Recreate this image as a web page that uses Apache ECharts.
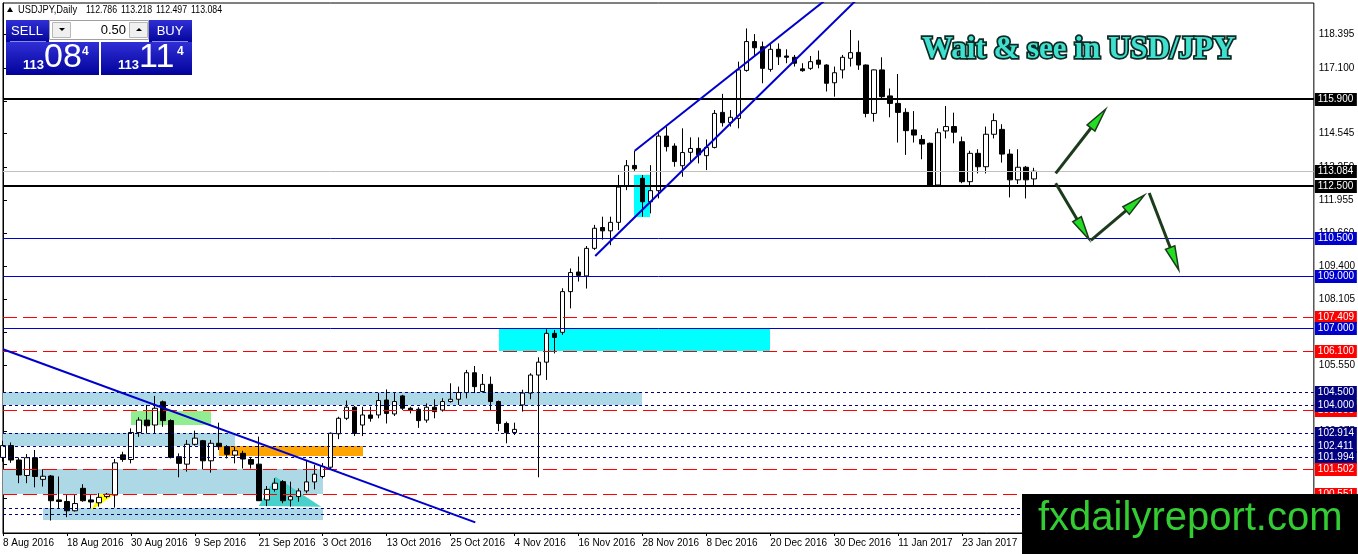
<!DOCTYPE html>
<html><head><meta charset="utf-8">
<script src="https://cdn.jsdelivr.net/npm/echarts@6/dist/echarts.min.js"></script>
<style>html,body{margin:0;padding:0;background:#fff}#c{width:1358px;height:554px}</style>
</head><body><div id="c"></div>
<script>
// ---------- data ----------
const tickIdx = [0,8,16,24,32,40,48,56,64,72,80,88,96,104,112,120];
const tickLabels = ['8 Aug 2016','18 Aug 2016','30 Aug 2016','9 Sep 2016','21 Sep 2016','3 Oct 2016','13 Oct 2016','25 Oct 2016','4 Nov 2016','16 Nov 2016','28 Nov 2016','8 Dec 2016','20 Dec 2016','30 Dec 2016','11 Jan 2017','23 Jan 2017'];
const priceTicks = [118.395,117.100,115.820,114.545,113.250,111.955,110.660,109.400,108.105,106.830,105.550,104.255,102.975,101.690,100.400];
// daily bars: [open, high, low, close]
const ohlc = [
[101.97,102.62,101.80,102.43],[102.43,102.55,101.76,101.87],[101.87,101.97,100.97,101.29],[101.27,102.10,100.97,101.96],
[101.96,102.26,100.81,101.23],[101.12,101.51,100.84,101.24],[101.25,101.29,99.52,100.29],[100.32,101.23,99.99,100.26],
[100.26,100.51,99.65,99.90],[99.90,100.51,99.87,100.18],[100.77,100.93,100.25,100.29],[100.32,100.51,99.99,100.24],
[100.21,100.58,100.06,100.42],[100.45,100.59,100.38,100.54],[100.51,101.91,100.02,101.76],[102.07,102.19,101.80,101.89],
[101.89,103.10,101.74,102.94],[102.94,103.53,102.77,103.42],[103.42,104.01,102.90,103.20],[103.23,104.36,102.88,103.88],
[104.13,104.18,103.16,103.40],[103.40,103.45,101.93,101.97],[102.00,102.13,101.20,101.74],[101.71,102.65,101.42,102.48],
[102.48,103.01,102.43,102.72],[102.62,102.65,101.51,101.84],[101.84,102.65,101.38,102.52],[102.52,103.32,102.26,102.39],
[102.39,102.45,101.93,102.09],[102.06,102.39,101.74,102.23],[102.13,102.23,101.54,101.91],[101.89,101.97,101.54,101.71],
[101.71,102.78,100.29,100.29],[100.32,100.86,100.08,100.73],[100.73,101.16,100.64,100.97],[101.03,101.09,100.19,100.29],
[100.32,101.03,100.06,100.45],[100.45,100.77,100.25,100.67],[100.67,101.84,100.58,101.02],[101.02,101.68,100.73,101.32],
[101.23,101.75,101.16,101.62],[101.59,102.94,101.49,102.91],[102.89,103.55,102.68,103.49],[103.49,104.18,103.42,103.92],
[103.92,103.97,102.80,102.90],[103.23,103.94,102.80,103.62],[103.62,103.94,103.36,103.49],[103.62,104.47,103.49,104.18],
[104.20,104.61,103.29,103.68],[103.66,104.47,103.58,104.14],[104.36,104.40,103.81,103.88],[103.88,103.94,103.68,103.81],
[103.84,103.92,103.12,103.40],[103.42,104.07,103.32,103.92],[103.92,104.23,103.49,103.75],[103.81,104.27,103.75,104.14],
[104.14,104.85,104.10,104.23],[104.23,104.72,104.01,104.49],[104.49,105.37,104.27,105.26],[105.26,105.52,104.47,104.72],
[104.53,105.21,104.49,104.81],[104.81,105.11,103.81,104.14],[104.14,104.18,102.99,103.29],[103.29,103.36,102.52,102.93],
[102.94,103.32,102.84,103.06],[104.01,104.60,103.75,104.47],[104.47,105.24,104.23,105.17],[105.17,105.86,101.20,105.67],
[105.67,106.95,104.98,106.79],[106.79,106.92,106.01,106.63],[106.83,108.54,106.73,108.41],[108.41,109.31,107.76,109.15],
[109.17,109.77,108.80,109.04],[109.02,110.18,108.53,110.09],[110.09,111.00,110.03,110.87],[110.90,111.32,110.43,110.77],
[110.77,111.32,110.21,111.10],[111.10,112.94,110.80,112.47],[112.52,113.52,112.35,113.30],[113.31,113.88,113.10,113.18],
[112.81,112.94,111.32,111.90],[111.90,113.32,111.45,112.33],[112.33,114.56,112.03,114.45],[114.45,114.82,113.85,114.04],
[114.06,114.17,113.26,113.46],[113.30,114.75,112.87,113.81],[113.82,114.40,113.42,113.97],[113.97,114.40,113.39,113.72],
[113.69,114.32,113.13,114.01],[114.01,115.46,113.97,115.33],[115.37,116.09,114.82,114.97],[114.98,115.46,114.82,115.18],
[115.14,117.34,114.75,117.02],[117.00,118.63,116.95,118.12],[118.12,118.41,117.53,117.88],[117.92,118.12,116.50,117.08],
[117.04,118.05,116.95,117.82],[117.82,118.05,117.21,117.53],[117.56,117.82,117.28,117.51],[117.51,117.60,117.15,117.28],
[117.06,117.28,116.95,116.99],[117.08,117.56,117.02,117.34],[117.40,117.77,117.08,117.24],[117.21,117.24,116.18,116.50],
[116.52,117.15,115.98,116.91],[117.02,117.60,116.69,117.51],[117.47,118.57,117.15,117.69],[117.70,118.16,117.02,117.21],
[117.21,117.23,115.18,115.33],[115.33,117.04,115.01,117.02],[117.02,117.51,115.92,115.98],[116.01,116.30,115.18,115.72],
[115.72,116.86,114.20,115.37],[115.37,115.53,113.72,114.66],[114.69,115.42,114.20,114.49],[114.32,114.49,113.55,114.14],
[114.17,114.20,112.49,112.55],[112.55,114.75,112.49,114.58],[114.65,115.62,114.36,114.82],[114.82,115.36,114.17,114.60],
[114.23,114.43,112.62,112.68],[112.68,113.88,112.55,113.78],[113.78,113.94,113.00,113.26],[113.26,114.82,113.00,114.52],
[114.52,115.33,114.36,115.05],[114.71,114.91,113.42,113.75],[113.75,113.94,112.07,112.75],[112.75,113.94,112.59,113.24],
[113.24,113.29,112.03,112.75],[112.786,113.218,112.497,113.084]
];
// horizontal levels: [price, kind]
const levels = [
[115.900,'thick'],[113.084,'bid'],[112.500,'thick'],[110.500,'blue'],[109.000,'blue'],[107.409,'red'],[107.000,'blue'],
[106.100,'red'],[104.500,'dot'],[103.800,'red'],[104.000,'dot'],[102.914,'dot'],[102.411,'dot'],[101.994,'dot'],
[101.502,'red'],[100.551,'red'],[100.000,'dot'],[99.770,'dot']
];
// zones: [fromBar, toBar, lowPrice, highPrice]
const zones = [
[-2,80,104.000,104.500],[-2,29,102.411,102.914],[-2,40,100.551,101.502],[5,40,99.540,100.000],
[16,26,103.230,103.790],[27,45,102.030,102.411],[62,96,106.100,107.000],[79,81,111.320,112.940]
];
const zoneColors = ['#add8e6','#add8e6','#add8e6','#add8e6','#90ee90','#ffa500','#00ffff','#00ffff'];
// triangles: [bar1, price1, bar2, price2, bar3, price3]
const triangles = [
[11.0,99.90,12.1,100.54,14.0,100.54],
[32.0,100.08,34.1,101.22,39.8,100.06]
];
const triColors = ['#ffff00','#48d1cc'];
// trend lines: [[bar, price],[bar, price]]
const trendDown = [[0,106.17],[59.09,99.45]];
const channelLow = [[74.09,109.79],[110,120.72]];
const channelHigh = [[79.04,113.88],[105,120.25]];
// scenario arrows: [fromBar, fromPrice, toBar, toPrice]
const arrows = [
[131.7,113.00,137.96,115.50],
[131.7,112.62,135.9,110.42],
[136.1,110.40,142.8,112.16],
[143.4,112.24,147.1,109.25]
];

// ---------- chart ----------
const chart = echarts.init(document.getElementById('c'));
const lvlStyle = {
  thick:{c:'#000000',w:2,t:null,bg:'#000000'},
  bid:{c:'#c0c0c0',w:1,t:null,bg:'#000000'},
  blue:{c:'#0000cd',w:1,t:null,bg:'#0000cd'},
  red:{c:'#ff0000',w:1,t:[14,6],bg:'#ff0000'},
  dot:{c:'#000080',w:1,t:[3,3],bg:'#000080'}
};
const FONT = 'Liberation Sans';
const candleData = ohlc.map((d,i)=>[i,d[0],d[3],d[2],d[1]]);

function lineSeries(pts){
  return {type:'line',data:pts,symbol:'none',z:6,silent:true,clip:true,
    lineStyle:{color:'#0000cd',width:2},animation:false};
}

const panelGrad = () => new echarts.graphic.LinearGradient(0,0,0,1,[{offset:0,color:'#2f2fd6'},{offset:1,color:'#02029a'}]);

chart.setOption({
  animation:false,
  backgroundColor:'#ffffff',
  grid:{left:3,top:3,right:43,bottom:21,show:true,borderColor:'#000',borderWidth:1},
  xAxis:{type:'value',min:0,max:164,interval:8,
    axisLine:{show:true,lineStyle:{color:'#000',width:1}},
    axisTick:{show:true,length:3,customValues:tickIdx,lineStyle:{color:'#000'}},
    axisLabel:{customValues:tickIdx,formatter:v=>{const k=tickIdx.indexOf(v);return k<0?'':tickLabels[k];},
      align:'left',margin:5,fontSize:10,color:'#000',fontFamily:FONT},
    splitLine:{show:false}},
  yAxis:{type:'value',position:'right',min:99.036,max:119.618,
    axisLine:{show:true,lineStyle:{color:'#000'}},
    axisTick:{show:true,length:4,customValues:priceTicks,lineStyle:{color:'#000'}},
    axisLabel:{customValues:priceTicks,formatter:v=>v.toFixed(3),margin:5,fontSize:10,color:'#000',fontFamily:FONT},
    splitLine:{show:false}},
  series:[
    {type:'custom',z:1,silent:true,data:zones.map((z,k)=>[z[0],z[1],z[2],z[3],k]),
      encode:{x:[0,1],y:[2,3]},
      renderItem:(params,api)=>{
        const a=api.coord([api.value(0),api.value(3)]).map(Math.round);
        const b=api.coord([api.value(1),api.value(2)]).map(Math.round);
        const cs=params.coordSys;
        const shape=echarts.graphic.clipRectByRect({x:a[0],y:a[1],width:b[0]-a[0],height:b[1]-a[1]},{x:cs.x,y:cs.y,width:cs.width,height:cs.height});
        return shape?{type:'rect',shape:shape,style:{fill:zoneColors[api.value(4)]}}:null;
      }},
    {type:'custom',z:1,silent:true,data:triangles.map((t,k)=>t.concat([k])),
      encode:{x:[0,2,4],y:[1,3,5]},
      renderItem:(params,api)=>{
        const pts=[0,2,4].map(j=>api.coord([api.value(j),api.value(j+1)]));
        return {type:'polygon',shape:{points:pts},style:{fill:triColors[api.value(6)]}};
      }},
    {type:'candlestick',z:3,silent:true,data:candleData,encode:{x:0,y:[1,2,3,4]},barWidth:5,
      itemStyle:{color:'#ffffff',color0:'#000000',borderColor:'#000000',borderColor0:'#000000',borderWidth:1}},
    {type:'custom',z:4,silent:true,data:levels.map((l,j)=>[l[0],j]),encode:{y:0},
      renderItem:(params,api)=>{
        const v=api.value(0), s=lvlStyle[levels[api.value(1)][1]], cs=params.coordSys;
        const y=api.coord([0,v])[1];
        const yy = s.w===2 ? Math.round(y) : Math.round(y)+0.5;
        const yl = Math.round(y);
        return {type:'group',children:[
          {type:'line',shape:{x1:cs.x,y1:yy,x2:cs.x+cs.width,y2:yy},style:{stroke:s.c,lineWidth:s.w,lineDash:s.t}},
          {type:'rect',shape:{x:cs.x+cs.width+1,y:yl-6,width:42,height:13},style:{fill:s.bg}},
          {type:'text',x:cs.x+cs.width+4,y:yl+0.5,style:{text:v.toFixed(3),fill:'#fff',font:'10px "Liberation Sans"',verticalAlign:'middle'}}
        ]};
      }},
    lineSeries(trendDown),lineSeries(channelLow),lineSeries(channelHigh),
    {type:'custom',z:7,silent:true,data:arrows,encode:{x:[0,2],y:[1,3]},
      renderItem:(params,api)=>{
        const a=api.coord([api.value(0),api.value(1)]);
        const b=api.coord([api.value(2),api.value(3)]);
        const dx=b[0]-a[0],dy=b[1]-a[1],len=Math.hypot(dx,dy),ux=dx/len,uy=dy/len,nx=-uy,ny=ux;
        const L=24,W=5;
        const base=[b[0]-ux*L,b[1]-uy*L];
        return {type:'group',children:[
          {type:'line',shape:{x1:a[0],y1:a[1],x2:base[0],y2:base[1]},style:{stroke:'#1c3a1c',lineWidth:3}},
          {type:'polygon',shape:{points:[b,[base[0]+nx*W,base[1]+ny*W],[base[0]-nx*W,base[1]-ny*W]]},
            style:{fill:'#22dd22',stroke:'#1c3a1c',lineWidth:1.5}}
        ]};
      }}
  ],
  graphic:[
    // header
    {type:'polygon',shape:{points:[[7,12],[10,7],[13,12]]},style:{fill:'#000'},z:50},
    {type:'text',x:18,y:10,scaleX:0.85,style:{text:'USDJPY,Daily',font:'11px "Liberation Sans"',fill:'#000',verticalAlign:'middle'},z:50},
    {type:'text',x:86,y:10,scaleX:0.8,style:{text:'112.786',font:'11px "Liberation Sans"',fill:'#000',verticalAlign:'middle'},z:50},
    {type:'text',x:121,y:10,scaleX:0.8,style:{text:'113.218',font:'11px "Liberation Sans"',fill:'#000',verticalAlign:'middle'},z:50},
    {type:'text',x:156,y:10,scaleX:0.8,style:{text:'112.497',font:'11px "Liberation Sans"',fill:'#000',verticalAlign:'middle'},z:50},
    {type:'text',x:191,y:10,scaleX:0.8,style:{text:'113.084',font:'11px "Liberation Sans"',fill:'#000',verticalAlign:'middle'},z:50},
    // trade panel
    {type:'rect',shape:{x:6,y:20,width:43,height:23},style:{fill:panelGrad()},z:50},
    {type:'rect',shape:{x:149,y:20,width:43,height:23},style:{fill:panelGrad()},z:50},
    {type:'rect',shape:{x:6,y:42,width:93,height:33},style:{fill:panelGrad()},z:50},
    {type:'rect',shape:{x:101,y:42,width:91,height:33},style:{fill:panelGrad()},z:50},
    {type:'rect',shape:{x:49.5,y:20.5,width:99,height:19},style:{fill:'#fff',stroke:'#a0a0a0',lineWidth:1},z:51},
    {type:'rect',shape:{x:52.5,y:22.5,width:18,height:15},style:{fill:'#f0f0f0',stroke:'#b8b8b8',lineWidth:1},z:52},
    {type:'rect',shape:{x:129.5,y:22.5,width:18,height:15},style:{fill:'#f0f0f0',stroke:'#b8b8b8',lineWidth:1},z:52},
    {type:'polygon',shape:{points:[[59,28],[65,28],[62,31]]},style:{fill:'#000'},z:53},
    {type:'polygon',shape:{points:[[136,31],[142,31],[139,28]]},style:{fill:'#000'},z:53},
    {type:'text',x:126,y:30,style:{text:'0.50',font:'13px "Liberation Sans"',fill:'#000',align:'right',verticalAlign:'middle'},z:53},
    {type:'text',x:27,y:31,style:{text:'SELL',font:'13px "Liberation Sans"',fill:'#fff',align:'center',verticalAlign:'middle'},z:53},
    {type:'text',x:170,y:31,style:{text:'BUY',font:'13px "Liberation Sans"',fill:'#fff',align:'center',verticalAlign:'middle'},z:53},
    {type:'rect',shape:{x:10,y:41,width:36,height:1},style:{fill:'#8a8aee'},z:53},
    {type:'rect',shape:{x:152,y:41,width:36,height:1},style:{fill:'#8a8aee'},z:53},
    {type:'text',x:23,y:72,style:{text:'113',font:'bold 13px "Liberation Sans"',fill:'#fff',verticalAlign:'bottom'},z:53},
    {type:'text',x:44,y:75,style:{text:'08',font:'34px "Liberation Sans"',fill:'#fff',verticalAlign:'bottom'},z:53},
    {type:'text',x:82,y:46,style:{text:'4',font:'bold 12px "Liberation Sans"',fill:'#fff',verticalAlign:'top'},z:53},
    {type:'text',x:118,y:72,style:{text:'113',font:'bold 13px "Liberation Sans"',fill:'#fff',verticalAlign:'bottom'},z:53},
    {type:'text',x:139,y:75,style:{text:'11',font:'34px "Liberation Sans"',fill:'#fff',verticalAlign:'bottom'},z:53},
    {type:'text',x:177,y:46,style:{text:'4',font:'bold 12px "Liberation Sans"',fill:'#fff',verticalAlign:'top'},z:53},
    // title
    {type:'text',x:922,y:50,style:{text:'Wait & see in USD/JPY',font:'bold 31px "Liberation Serif"',fill:'#3fe0cf',
      stroke:'#0d2b24',lineWidth:3.5,strokeFirst:true,verticalAlign:'middle'},z:60},
    // watermark
    {type:'rect',shape:{x:1022,y:494,width:336,height:60},style:{fill:'#000'},z:70},
    {type:'text',x:1038,y:519,style:{text:'fxdailyreport.com',font:'40px "Liberation Sans"',fill:'#33cc33',verticalAlign:'middle'},z:71}
  ]
});
</script></body></html>
